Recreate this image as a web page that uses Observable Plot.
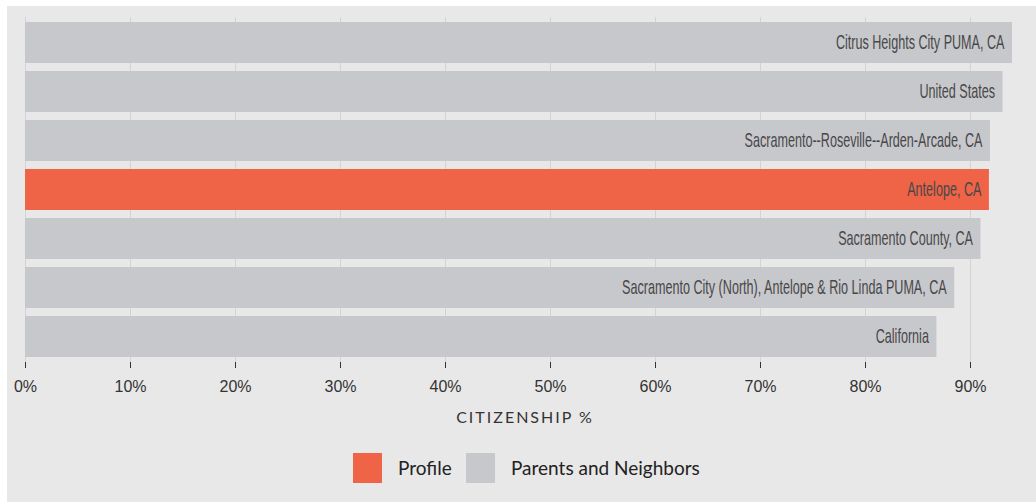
<!DOCTYPE html>
<html>
<head>
<meta charset="utf-8">
<script src="https://cdn.jsdelivr.net/npm/d3@7"></script>
<script src="https://cdn.jsdelivr.net/npm/@observablehq/plot@0.6"></script>
<style>
  body { margin: 0; background: #ffffff; }
  #box { position: absolute; left: 7px; top: 6px; width: 1029px; height: 496px; background: #e8e8e8; overflow: hidden; }
  #chart { position: absolute; left: 0; top: 0; }
  #chart svg line { stroke: #d3d3d3; }
  #xlabel { position: absolute; left: 0; width: 1036px; top: 403px; text-align: center; font-family: Lato, sans-serif; font-size: 16px; line-height: 16px; letter-spacing: 2px; color: #333; }
  .sw { position: absolute; width: 29px; height: 30px; top: 447px; }
  .lt { position: absolute; top: 449px; font-family: Lato, sans-serif; font-size: 19px; line-height: 26px; color: #222; }
</style>
</head>
<body>
<div id="box">
  <div id="chart"></div>
  <div id="xlabel">CITIZENSHIP %</div>
  <div class="sw" id="sw0" style="left:346px;"></div>
  <div class="lt" id="lt0" style="left:391px;"></div>
  <div class="sw" id="sw1" style="left:459px;"></div>
  <div class="lt" id="lt1" style="left:504px;"></div>
</div>
<script>
const names = [
  "Citrus Heights City PUMA, CA",
  "United States",
  "Sacramento--Roseville--Arden-Arcade, CA",
  "Antelope, CA",
  "Sacramento County, CA",
  "Sacramento City (North), Antelope & Rio Linda PUMA, CA",
  "California"
];
const values = [94.0, 93.1, 91.9, 91.8, 91.0, 88.5, 86.8];
const groups = ["Parents and Neighbors", "Parents and Neighbors", "Parents and Neighbors", "Profile", "Parents and Neighbors", "Parents and Neighbors", "Parents and Neighbors"];
const legendNames = ["Profile", "Parents and Neighbors"];
const legendColors = ["#ef6346", "#c7c8cb"];
const xTicks = [0, 10, 20, 30, 40, 50, 60, 70, 80, 90];

const data = names.map((n, i) => ({name: n, value: values[i], group: groups[i]}));

const chart = Plot.plot({
  width: 1029,
  height: 400,
  marginLeft: 18,
  marginRight: 11,
  marginTop: 11,
  marginBottom: 44,
  style: {background: "transparent", fontFamily: "'Liberation Sans', Arial, sans-serif", fontSize: "16px", color: "#333"},
  x: {domain: [0, 95.238], ticks: xTicks, tickFormat: d => d + "%", tickSize: 6, tickPadding: 12, label: null},
  y: {domain: names, axis: null, paddingInner: 0.16, paddingOuter: 0.08},
  color: {domain: legendNames, range: legendColors},
  marks: [
    Plot.ruleX(xTicks, {stroke: "#d3d3d3"}),
    Plot.barX(data, {x: "value", y: "name", fill: "group"}),
    Plot.text(data, {x: "value", y: "name", text: "name", textAnchor: "end", dx: -8, fill: "#47474a", fontFamily: "'Liberation Sans', sans-serif", fontSize: 20, className: "barlabel"})
  ]
});
document.getElementById("chart").appendChild(chart);

// condense bar labels horizontally (narrow typeface look), anchored at their right end
chart.querySelectorAll(".barlabel text").forEach(t => {
  const tr = t.getAttribute("transform") || "";
  t.setAttribute("transform", tr + " scale(0.63,1)");
});

legendNames.forEach((n, i) => {
  document.getElementById("sw" + i).style.background = legendColors[i];
  document.getElementById("lt" + i).textContent = n;
});
</script>
</body>
</html>
